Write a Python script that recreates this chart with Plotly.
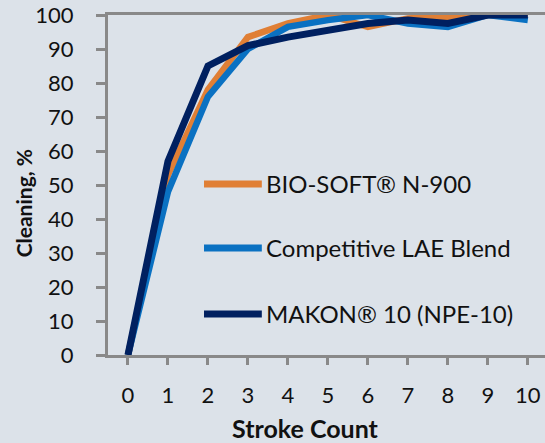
import plotly.graph_objects as go

stroke_count = [0, 1, 2, 3, 4, 5, 6, 7, 8, 9, 10]
series_names = ["BIO-SOFT® N-900", "Competitive LAE Blend", "MAKON® 10 (NPE-10)"]
bio_soft = [0, 53, 78, 93.5, 97.5, 100, 96.5, 99, 99.5, 100, 100]
competitive = [0, 48, 76, 90, 96.5, 98.5, 100, 97.5, 96.5, 100, 98.5]
makon = [0, 57, 85, 91, 93.5, 95.5, 97.5, 98.5, 97.5, 100, 100]
y_ticks = [0, 10, 20, 30, 40, 50, 60, 70, 80, 90, 100]

colors = ["#E07F35", "#0A71C2", "#002060"]
widths = [6.5, 6.5, 7]
values = [bio_soft, competitive, makon]

FONT = "Lato, 'Open Sans', sans-serif"
BG = "#DCE2E9"

fig = go.Figure()
for name, vals, c, w in zip(series_names, values, colors, widths):
    fig.add_trace(go.Scatter(x=stroke_count, y=vals, mode="lines", name=name,
                             line=dict(color=c, width=w), showlegend=False))

# custom legend (line samples + text)
leg_y = [0.503, 0.315, 0.1206]
for name, c, yy in zip(series_names, colors, leg_y):
    fig.add_shape(type="line", xref="paper", yref="paper", x0=0.2197, x1=0.352,
                  y0=yy, y1=yy, line=dict(color=c, width=7))
    fig.add_annotation(text=name, xref="paper", yref="paper", x=0.357, y=yy,
                       xanchor="left", yanchor="middle", showarrow=False,
                       font=dict(family=FONT, size=24, color="#111"))

fig.add_annotation(text="<b>Stroke Count</b>", xref="paper", yref="paper",
                   x=0.453, y=-0.2147, xanchor="center", yanchor="middle",
                   showarrow=False, font=dict(family=FONT, size=25, color="#111"))
fig.add_annotation(text="<b>Cleaning, %</b>", xref="paper", yref="paper",
                   x=-0.193, y=0.445, xanchor="center", yanchor="middle",
                   textangle=-90, showarrow=False,
                   font=dict(family=FONT, size=21, color="#111"))

fig.update_layout(
    width=545, height=443,
    margin=dict(l=108, r=0, t=15, b=88, autoexpand=False),
    paper_bgcolor=BG, plot_bgcolor=BG,
    font=dict(family=FONT, size=22, color="#111"),
    showlegend=False,
)
fig.update_xaxes(range=[-0.5, 10.43], tickvals=stroke_count, showgrid=False,
                 zeroline=False, showline=True, linecolor="#898989", linewidth=3,
                 mirror=True, ticks="outside", ticklen=7, tickwidth=3,
                 tickcolor="#898989", ticklabelstandoff=12,
                 ticklabeloverflow="allow", automargin=False)
fig.update_yaxes(range=[0, 100], tickvals=y_ticks, showgrid=False,
                 zeroline=False, showline=True, linecolor="#898989", linewidth=3,
                 ticks="outside", ticklen=9, tickwidth=3, tickcolor="#898989",
                 ticklabelstandoff=18, ticklabeloverflow="allow", automargin=False)

# remove the default 8px page margin so the figure fills the window exactly
fig.write_html("out.html", config={"displayModeBar": False},
               post_script="document.body.style.margin='0';document.body.style.overflow='hidden';")
